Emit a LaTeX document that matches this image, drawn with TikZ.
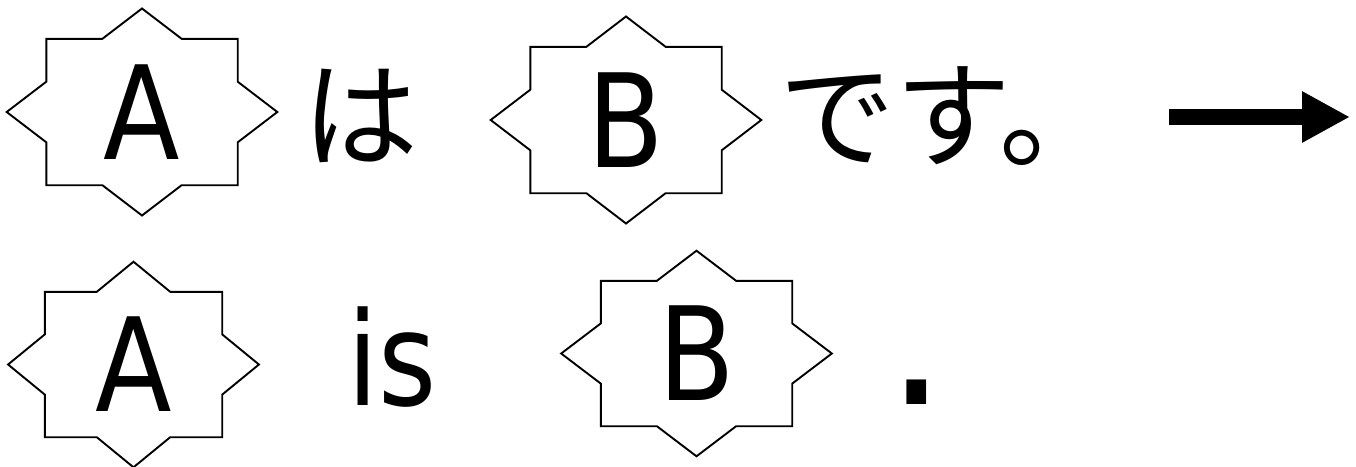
\documentclass[tikz,border=0pt]{standalone}
\usepackage{fontspec}
\usepackage{tikz}
\usetikzlibrary{arrows.meta,positioning,calc}
\newfontfamily\lettfont[FakeStretch=0.86]{DejaVu Sans}
\newfontfamily\jpfont{Noto Sans CJK JP}
\tikzset{
  starbox/.style={minimum width=191pt,minimum height=146pt,
                  inner sep=0pt,font=\lettfont\fontsize{130}{130}\selectfont},
  wordtext/.style={inner sep=0pt,font=\lettfont\fontsize{130}{130}\selectfont},
  jptext/.style={inner sep=0pt,font=\jpfont\fontsize{116}{116}\selectfont},
  starline/.style={draw=black,line width=1.9pt,line join=miter},
  bigarrow/.style={-{Triangle[length=48pt,width=48pt]},line width=16pt}
}

\begin{document}
\begin{tikzpicture}[x=1pt,y=-1pt]
      \useasboundingbox (0,0) rectangle (1356,466);

      % top row: Japanese
      \node[starbox] (a1) at (142,112) {A};
      \node[jptext] (ha) at (360,116) {は};
      \node[starbox] (b1) at (626,120) {B};
      \node[jptext,anchor=west] (desu) at (779,116) {です。};

      % bottom row: English
      \node[starbox,minimum width=177pt,minimum height=145pt] (a2) at (133.5,364.5) {A};
      \node[wordtext,anchor=base] (is) at (392.5,405) {is};
      \node[starbox,minimum height=145pt] (b2) at (696.5,353.5) {B};
      \node[wordtext,anchor=base,font=\lettfont\bfseries\fontsize{130}{130}\selectfont] (dot) at (916.5,404) {.};

      % eight-pointed stars round the letters
      \foreach \n in {a1,b1,a2,b2} {
        \draw[starline] (\n.north west)
          -- ($(\n.north west)!0.586!(\n.north)$) -- ($(\n.center)!1.414!(\n.north)$)
          -- ($(\n.north east)!0.586!(\n.north)$) -- (\n.north east)
          -- ($(\n.north east)!0.586!(\n.east)$) -- ($(\n.center)!1.414!(\n.east)$)
          -- ($(\n.south east)!0.586!(\n.east)$) -- (\n.south east)
          -- ($(\n.south east)!0.586!(\n.south)$) -- ($(\n.center)!1.414!(\n.south)$)
          -- ($(\n.south west)!0.586!(\n.south)$) -- (\n.south west)
          -- ($(\n.south west)!0.586!(\n.west)$) -- ($(\n.center)!1.414!(\n.west)$)
          -- ($(\n.north west)!0.586!(\n.west)$) -- cycle;
      }

      % arrow
      \coordinate (arrowstart) at (1169,117);
      \coordinate (arrowend) at (1350,117);
      \draw[bigarrow] (arrowstart) -- (arrowend);
    \end{tikzpicture}
\end{document}
